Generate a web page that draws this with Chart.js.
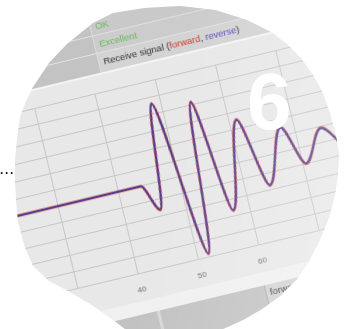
<!DOCTYPE html>
<html>
<head>
<meta charset="utf-8">
<script src="https://cdn.jsdelivr.net/npm/chart.js@4.4.1/dist/chart.umd.min.js"></script>
<style>
  html, body { margin: 0; padding: 0; width: 347px; height: 329px; overflow: hidden; background: #ffffff; }
  #lens {
    position: absolute; left: 0; top: 0; width: 347px; height: 329px;
    clip-path: polygon(113px 13px, 145px 8px, 180px 6px, 215px 10px, 247px 20px, 273px 33px, 288px 45px,
      301px 58px, 313px 75px, 323px 93px, 330px 113px, 336px 135px, 339px 155px, 338px 175px, 335px 195px,
      329px 218px, 320px 240px, 309px 261px, 297px 279px, 280px 296px, 262px 309px, 243px 320px, 223px 329px,
      125px 329px, 108px 316px, 90px 304px, 68px 291px, 49px 281px, 33px 266px, 24px 245px, 18px 222px,
      16px 200px, 15px 180px, 15px 160px, 17px 138px, 20px 117px, 26px 101px, 33px 87px, 49px 63px,
      67px 44px, 93px 23px);
    background: #e8e8e8; overflow: hidden;
  }
  #sheet { position: absolute; left: 0; top: 0; width: 405px; height: 219px; transform-origin: 0 0; filter: blur(0.5px); }
  #sheet canvas { position: absolute; left: 0; top: 0; }
  #frame { position: absolute; left: 0; top: 0; width: 0; height: 0; }
  .blk { position: absolute; }
  .txt { position: absolute; white-space: nowrap; font-family: "Liberation Sans", Arial, sans-serif; font-size: 9.5px; line-height: 18px; }
  #shine {
    position: absolute; left: 0; top: 0; width: 347px; height: 329px;
    background: linear-gradient(100deg, rgba(255,255,255,0) 45%, rgba(255,255,255,0.28) 100%);
  }
  #dots {
    position: absolute; left: 0; top: 164px; font: bold 12px "Liberation Sans", Arial, sans-serif;
    line-height: 12px; letter-spacing: 1.7px; color: #1a1a1a;
  }
  #big6 {
    position: absolute; left: 247px; top: 62px; font: bold 80px "Liberation Sans", Arial, sans-serif;
    line-height: 80px; color: #ffffff;
  }
</style>
</head>
<body>
<div id="lens">
  <div id="sheet">
    <div id="frame">
      <!-- header rows above the plot -->
      <div class="blk" style="left:-300px;top:-300px;width:800px;height:180px;background:#c3c3c3"></div>
      <div class="blk" style="left:12px;top:-175px;width:488px;height:18px;background:#c9c9c9"></div>
      <div class="blk" style="left:12px;top:-157px;width:488px;height:18px;background:#cccccc"></div>
      <div class="blk" style="left:12px;top:-139px;width:488px;height:19px;background:#d3d3d3"></div>
      <div class="blk" style="left:-300px;top:-176px;width:800px;height:1px;background:#dedede"></div>
      <div class="blk" style="left:-300px;top:-158px;width:800px;height:1px;background:#e0e0e0"></div>
      <div class="blk" style="left:-300px;top:-140px;width:800px;height:1px;background:#e2e2e2"></div>
      <div class="blk" style="left:-300px;top:-120px;width:800px;height:2px;background:#f4f4f4"></div>
      <div class="blk" style="left:11px;top:-300px;width:1px;height:180px;background:#dcdcdc"></div>
      <div class="txt" style="left:16px;top:-175px;color:#69b85c">OK</div>
      <div class="txt" style="left:16px;top:-157px;color:#69b85c">Excellent</div>
      <div class="txt" style="left:16px;top:-139px;color:#333333">Receive signal (<span style="color:#d2392b">forward</span>, <span style="color:#5548c0">reverse</span>)</div>
      <!-- control strip below the plot -->
      <div class="blk" style="left:-300px;top:112px;width:800px;height:13px;background:#f0f0f0"></div>
      <div class="blk" style="left:-300px;top:125px;width:800px;height:130px;background:#c2c2c2"></div>
      <div class="blk" style="left:10px;top:125px;width:3px;height:130px;background:#d8d8d8"></div>
      <div class="blk" style="left:120px;top:125px;width:380px;height:30px;background:#d2d2d2;border-left:1px solid #a9a9a9"></div>
      <div class="txt" style="left:124px;top:124px;color:#3a3a3a">forward</div>
    </div>
    <canvas id="plot" width="405" height="219"></canvas>
  </div>
  <div id="shine"></div>
</div>
<div id="dots">...</div>
<div id="big6">6</div>

<script>
  // Axis ranges
  const xMin = 20, xMax = 80, xStep = 10;
  const yMin = -1, yMax = 1.2, yStep = 0.2;

  // Sample positions and the two receive traces
  const sigX    = [20, 43.7, 45.9, 48.5, 51.8, 54.7, 57.3, 61.2, 64.0, 67.8, 70.5, 74.1, 77.2];
  const forward = [0, 0, -0.33, 0.93, -0.97, 0.84, -0.54, 0.51, -0.35, 0.30, -0.20, 0.18, -0.12];
  const reverse = [0, 0, -0.32, 0.92, -0.96, 0.83, -0.53, 0.50, -0.34, 0.29, -0.19, 0.17, -0.11];

  const toPoints = (ys) => sigX.map((x, i) => ({ x: x, y: ys[i] }));

  const chart = new Chart(document.getElementById('plot'), {
    type: 'line',
    data: {
      datasets: [
        // forward sits underneath, reverse is drawn over it
        { label: 'forward', data: toPoints(forward), borderColor: '#c4403a', borderWidth: 2.6, order: 1,
          pointRadius: 0, cubicInterpolationMode: 'monotone', fill: false },
        { label: 'reverse', data: toPoints(reverse), borderColor: '#4a3c96', borderWidth: 1.8, order: 0,
          pointRadius: 0, cubicInterpolationMode: 'monotone', fill: false }
      ]
    },
    options: {
      responsive: false,
      animation: false,
      events: [],
      layout: { padding: { left: 8, right: 8, top: 4, bottom: 0 } },
      plugins: { legend: { display: false }, tooltip: { enabled: false } },
      scales: {
        x: {
          type: 'linear', min: xMin, max: xMax,
          ticks: { stepSize: xStep, padding: 12, color: '#6a6a6a', maxRotation: 0, autoSkip: false,
                   font: { family: 'Liberation Sans', size: 8 } },
          grid: { color: '#c6c6c6', lineWidth: 1, drawTicks: false },
          border: { display: false },
          afterFit: (s) => { s.height = 30; }
        },
        y: {
          min: yMin, max: yMax,
          ticks: { display: false, stepSize: yStep },
          grid: { color: '#c6c6c6', lineWidth: 1, drawTicks: false },
          border: { display: false },
          afterFit: (s) => { s.width = 0; }
        }
      }
    }
  });

  // Tilt the whole sheet; the point (x=40, y=0) is pinned to the screen spot below.
  const ax = chart.scales.x.getPixelForValue(40);
  const ay = chart.scales.y.getPixelForValue(0);
  const sheet = document.getElementById('sheet');
  const frame = document.getElementById('frame');
  frame.style.left = ax + 'px';
  frame.style.top = ay + 'px';
  sheet.style.transform = 'translate(118.4px,191.7px) rotate(-13.5deg) translate(' + (-ax) + 'px,' + (-ay) + 'px)';
</script>
</body>
</html>
